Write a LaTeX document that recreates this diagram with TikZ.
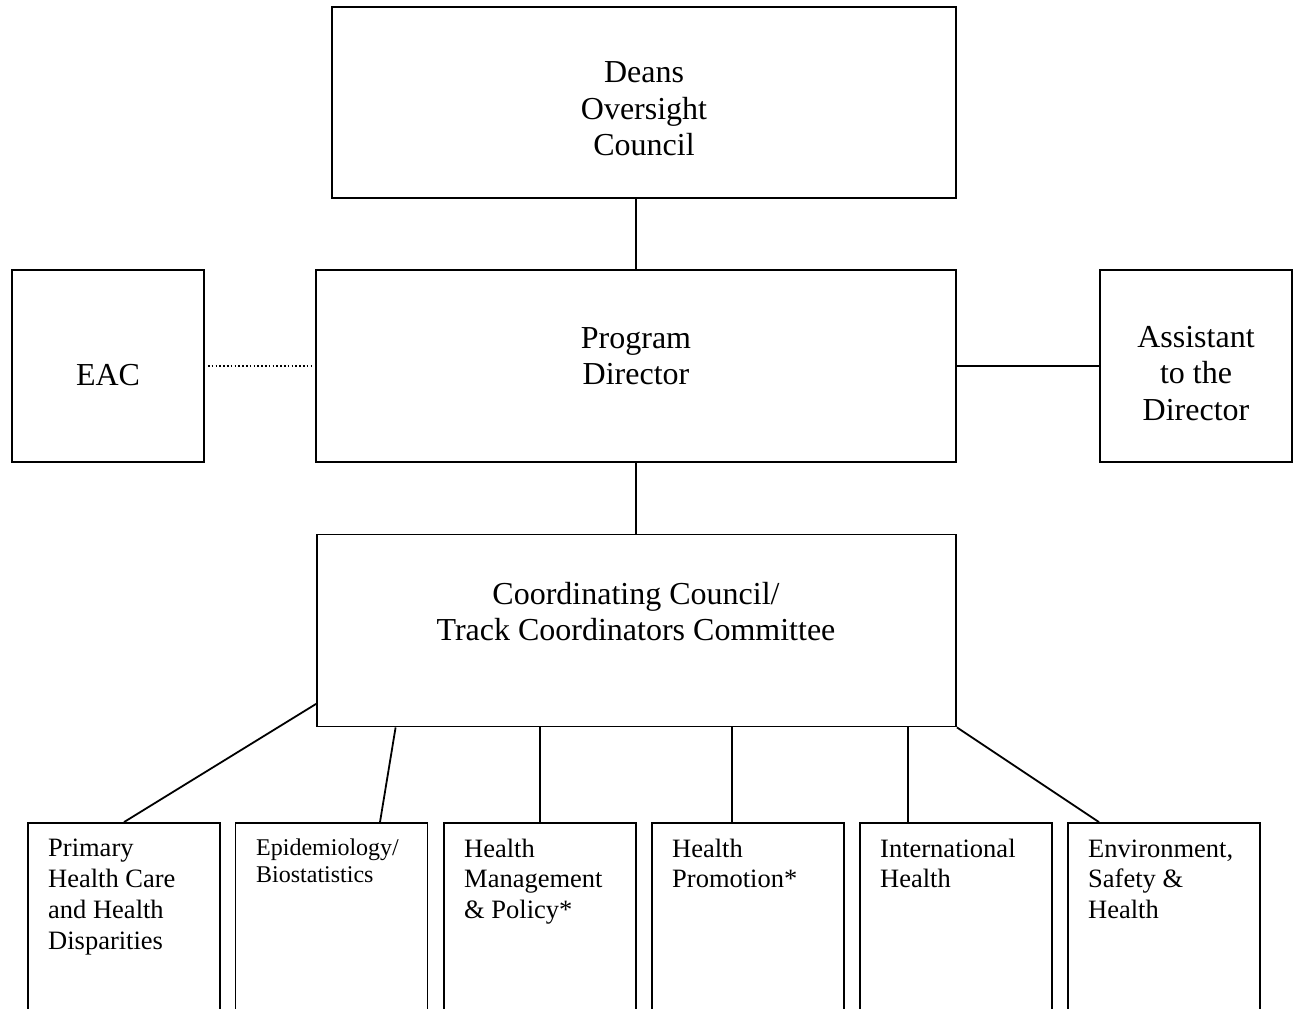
\documentclass[tikz,border=0pt]{standalone}
\usepackage{fontspec}
\setmainfont{Liberation Serif}
\usetikzlibrary{calc}
\tikzset{
  box/.style={draw=black, line width=1.8pt, inner sep=0pt, rectangle},
  bigbox/.style={box, minimum width=#1, minimum height=192},
  colbox/.style={box, minimum width=192, minimum height=277},
  bigtext/.style={inner sep=0pt, align=center, font=\fontsize{32}{36.5}\selectfont, anchor=base},
  coltext/.style={inner sep=0pt, align=left, font=\fontsize{26.5}{30.7}\selectfont, anchor=base west},
  smalltext/.style={inner sep=0pt, align=left, font=\fontsize{24}{27.3}\selectfont, anchor=base west},
  link/.style={line width=1.8pt},
  dotlink/.style={line width=1.5pt, dash pattern=on 1.6pt off 2.2pt, shorten <=3, shorten >=3}
}
\begin{document}
\begin{tikzpicture}[x=1pt, y=-1pt]
\clip (0,0) rectangle (1294,1009);
\fill[white] (0,0) rectangle (1294,1009);
% boxes
\node[box, minimum width=624, minimum height=191] (deans) at (644,102.5) {};
\node[bigbox=640] (pd) at (636,366) {};
\node[bigbox=639] (cc) at (636.5,630.5) {};
\node[bigbox=192] (eac) at (108,366) {};
\node[bigbox=192] (asst) at (1196,366) {};
\node[colbox] (b1) at (124,961.5) {};
\node[colbox] (b2) at (331.5,961.5) {};
\node[colbox] (b3) at (540,961.5) {};
\node[colbox] (b4) at (748,961.5) {};
\node[colbox] (b5) at (956,961.5) {};
\node[colbox] (b6) at (1164,961.5) {};
% texts (anchored at the baseline of the last line)
\node[bigtext] (tdeans) at (644,155.5) {Deans\\Oversight\\Council};
\node[bigtext] (tpd) at (636,384.5) {Program\\Director};
\node[bigtext] (tcc) at (636,640.5) {Coordinating Council/\\Track Coordinators Committee};
\node[bigtext] (teac) at (108,385) {EAC};
\node[bigtext] (tasst) at (1196,420) {Assistant\\to the\\Director};
\node[coltext] (t1) at (48,949) {Primary\\Health Care\\and Health\\Disparities};
\node[smalltext] (t2) at (256,882.3) {Epidemiology/\\Biostatistics};
\node[coltext] (t3) at (464,918.4) {Health\\Management\\\& Policy*};
\node[coltext] (t4) at (672,887.7) {Health\\Promotion*};
\node[coltext] (t5) at (880,887.7) {International\\Health};
\node[coltext] (t6) at (1088,918.4) {Environment,\\Safety \&\\Health};
% connectors
\draw[link] (pd.north) -- (pd.north |- deans.south);
\draw[link] (pd.south) -- (pd.south |- cc.north);
\draw[dotlink] (eac.east) -- (pd.west);
\draw[link] (pd.east) -- (asst.west);
\draw[link] ($(cc.south west)+(0,-23.5)$) -- (b1.north);
\draw[link] ($(cc.south west)+(79.5,0)$) -- ($(b2.north)+(48.5,0)$);
\draw[link] (b3.north |- cc.south) -- (b3.north);
\draw[link] ($(b4.north |- cc.south)+(-16,0)$) -- ($(b4.north)+(-16,0)$);
\draw[link] ($(b5.north |- cc.south)+(-48,0)$) -- ($(b5.north)+(-48,0)$);
\draw[link] (cc.south east) -- ($(b6.north)+(-65,0)$);
\end{tikzpicture}
\end{document}
